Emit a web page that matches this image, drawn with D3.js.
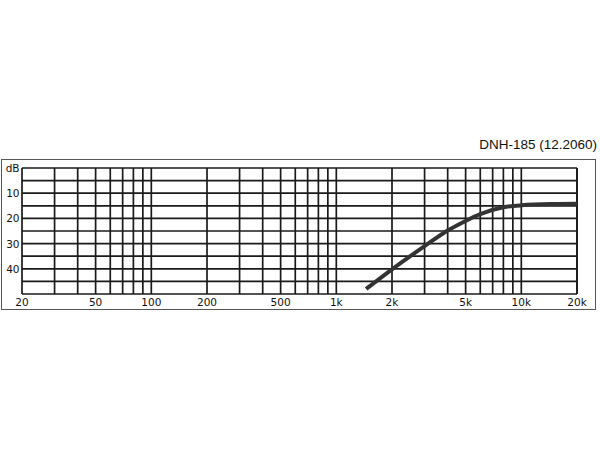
<!DOCTYPE html>
<html><head><meta charset="utf-8">
<script src="https://cdn.jsdelivr.net/npm/d3@7"></script>
<style>body{margin:0;background:#fff}</style>
</head><body>
<script>
const title = "DNH-185 (12.2060)";
const freqs = [1450, 2000, 3000, 4000, 5000, 6000, 8000, 10000, 15000, 20000];
const dbVals = [48, 40.2, 31, 24.8, 21, 18.3, 15.6, 14.8, 14.3, 14.2];
const xTickVals = [20, 50, 100, 200, 500, 1000, 2000, 5000, 10000, 20000];
const xTickLabels = ["20","50","100","200","500","1k","2k","5k","10k","20k"];
const yTickVals = [0, 10, 20, 30, 40];
const yTickLabels = ["dB","10","20","30","40"];

const W = 600, H = 450;
const svg = d3.select("body").append("svg").attr("width", W).attr("height", H);
const x = d3.scaleLog().domain([20, 20000]).range([22, 577]);
const y = d3.scaleLinear().domain([0, 50]).range([168, 294]);

// outer frame
svg.append("rect").attr("x", 1.5).attr("y", 159.5).attr("width", 594).attr("height", 150)
  .attr("fill", "none").attr("stroke", "#555").attr("stroke-width", 1);

// grid
const vlines = [];
for (let dec = 10; dec <= 10000; dec *= 10)
  for (let m = 1; m <= 9; m++) { const f = dec * m; if (f >= 20 && f <= 20000) vlines.push(f); }
vlines.push(20000);
const hlines = d3.range(0, 51, 5);
const g = svg.append("g");
g.selectAll(".v").data(vlines).enter().append("line")
  .attr("x1", d => x(d)).attr("x2", d => x(d)).attr("y1", y(0)).attr("y2", y(50))
  .attr("stroke", "#1a1a1a").attr("stroke-width", 1.7);
g.selectAll(".h").data(hlines).enter().append("line")
  .attr("x1", x(20)).attr("x2", x(20000)).attr("y1", d => y(d)).attr("y2", d => y(d))
  .attr("stroke", "#1a1a1a").attr("stroke-width", 1.7);

// axis labels
const font = "DejaVu Sans, Verdana, sans-serif";
svg.selectAll(".xl").data(xTickVals).enter().append("text")
  .attr("x", d => x(d)).attr("y", 306).attr("text-anchor", "middle")
  .attr("font-family", font).attr("font-size", 10.5).attr("fill", "#111")
  .text((d, i) => xTickLabels[i]);
svg.selectAll(".yl").data(yTickVals).enter().append("text")
  .attr("x", 19.5).attr("y", d => y(d) + 4).attr("text-anchor", "end")
  .attr("font-family", font).attr("font-size", 10.5).attr("fill", "#111")
  .text((d, i) => yTickLabels[i]);

// title
svg.append("text").attr("x", 597).attr("y", 149).attr("text-anchor", "end")
  .attr("font-family", "Liberation Sans, Arial, sans-serif").attr("font-size", 13.5).attr("fill", "#111")
  .text(title);

// curve
const data = freqs.map((f, i) => [f, dbVals[i]]);
svg.append("path").datum(data)
  .attr("d", d3.line().x(d => x(d[0])).y(d => y(d[1])).curve(d3.curveMonotoneX))
  .attr("fill", "none").attr("stroke", "#333").attr("stroke-width", 4).attr("stroke-linecap", "butt");
</script>
</body></html>
